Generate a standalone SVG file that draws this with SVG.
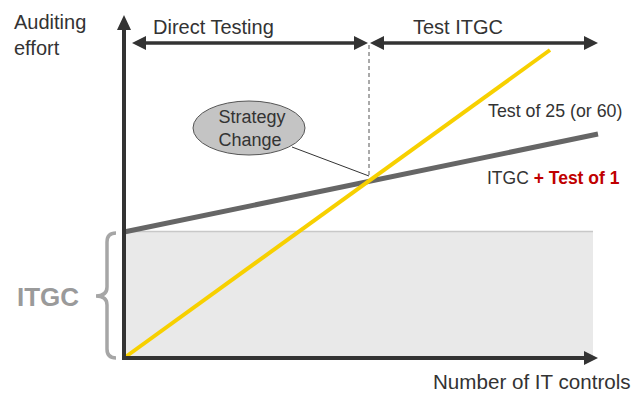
<svg xmlns="http://www.w3.org/2000/svg" width="634" height="396" viewBox="0 0 634 396">
<style>
text{font-family:"Liberation Sans",Arial,sans-serif;fill:#333}
.lbl{font-size:20px}
.axis{stroke:#333;stroke-width:4;fill:none}
.span{stroke:#333;stroke-width:3.5;fill:none}
.ah{fill:#333}
</style>
<rect width="634" height="396" fill="#fff"/>
<g id="itgc-band">
<rect x="124" y="231" width="469" height="127" fill="#e9e9e9" stroke="none"/>
<line x1="124" y1="231.5" x2="593" y2="231.5" stroke="#c8c8c8" stroke-width="1.5"/>
</g>
<g id="connectors">
<line x1="369" y1="45" x2="369" y2="176" stroke="#555" stroke-width="1" stroke-dasharray="4,3"/>
<line x1="292" y1="147" x2="369" y2="176" stroke="#333" stroke-width="1"/>
<line x1="124" y1="232" x2="598" y2="134" stroke="#666" stroke-width="5"/>
<line x1="124" y1="358" x2="550" y2="50" stroke="#f7d000" stroke-width="4"/>
</g>
<g id="axes">
<line class="axis" x1="124" y1="358" x2="124" y2="26"/>
<polygon class="ah" points="124,15 117,30 131,30"/>
<line class="axis" x1="122" y1="358" x2="586" y2="358"/>
<polygon class="ah" points="598,358 584,351 584,365"/>
</g>
<g id="span-direct">
<line class="span" x1="142" y1="43" x2="358" y2="43"/>
<polygon class="ah" points="132,43 146,36 146,50"/>
<polygon class="ah" points="368,43 354,36 354,50"/>
<text class="lbl" x="153" y="34">Direct Testing</text>
</g>
<g id="span-itgc">
<line class="span" x1="380" y1="43" x2="588" y2="43"/>
<polygon class="ah" points="370,43 384,36 384,50"/>
<polygon class="ah" points="598,43 584,36 584,50"/>
<text class="lbl" x="413" y="34">Test ITGC</text>
</g>
<g id="strategy-change">
<ellipse cx="249" cy="128" rx="56" ry="27" fill="#c4c4c4" stroke="#555" stroke-width="1"/>
<text x="252" y="123" font-size="18" text-anchor="middle">Strategy</text>
<text x="250" y="146" font-size="18" text-anchor="middle">Change</text>
</g>
<g id="y-label">
<text class="lbl" x="14" y="29">Auditing</text>
<text class="lbl" x="14" y="55">effort</text>
</g>
<g id="x-label">
<text x="433" y="389" font-size="20.6">Number of IT controls</text>
</g>
<g id="label-test25">
<text x="488" y="117" font-size="17.8">Test of 25 (or 60)</text>
</g>
<g id="label-itgc-test1">
<text x="487" y="184" font-size="17.5">ITGC <tspan font-weight="bold" style="fill:#c00000">+ Test of 1</tspan></text>
</g>
<g id="itgc-brace">
<path d="M116,233 Q107,233 107,242 L107,287 Q107,296 96,296 Q107,296 107,305 L107,349 Q107,358 116,358" fill="none" stroke="#a6a6a6" stroke-width="3.5"/>
<text x="17" y="306" font-size="26" font-weight="bold" style="fill:#9a9a9a">ITGC</text>
</g>
</svg>
